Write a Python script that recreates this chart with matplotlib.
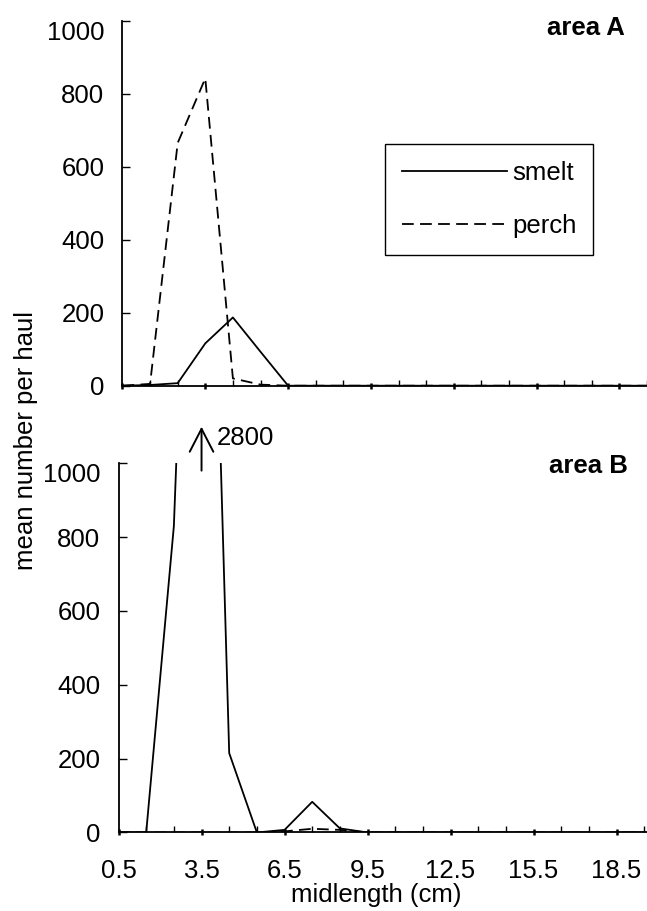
import numpy as np
import matplotlib.pyplot as plt
from matplotlib.ticker import MultipleLocator, FixedLocator

plt.rcParams["font.family"] = ["Liberation Sans", "DejaVu Sans"]
plt.rcParams["font.size"] = 18.5

# midlength classes (cm) and mean catch per haul
midlength = [0.5, 1.5, 2.5, 3.5, 4.5, 5.5, 6.5, 7.5, 8.5, 9.5,
             10.5, 11.5, 12.5, 13.5, 14.5, 15.5, 16.5, 17.5, 18.5, 19.5]

smelt_a = [0, 2, 7, 116, 187, 93, 0, 0, 0, 0,
           0, 0, 0, 0, 0, 0, 0, 0, 0, 0]
perch_a = [0, 5, 665, 842, 20, 3, 0, 0, 0, 0,
           0, 0, 0, 0, 0, 0, 0, 0, 0, 0]

smelt_b = [0, 0, 830, 2800, 215, 0, 7, 83, 11, 0,
           0, 0, 0, 0, 0, 0, 0, 0, 0, 0]
perch_b = [0, 0, 0, 0, 0, 0, 3, 10, 7, 0,
           0, 0, 0, 0, 0, 0, 0, 0, 0, 0]

y_ticks = [0, 200, 400, 600, 800, 1000]
x_ticks = [0.5, 3.5, 6.5, 9.5, 12.5, 15.5, 18.5]

DASH = (0, (6.5, 3.5))
LW = 1.3


def style_axes(ax, xmax, show_xlabels):
    ax.set_xlim(0.5, xmax)
    ax.set_ylim(0, 1000)
    for side in ("top", "right"):
        ax.spines[side].set_visible(False)
    for side in ("left", "bottom"):
        ax.spines[side].set_linewidth(1.3)

    ax.xaxis.set_major_locator(FixedLocator(x_ticks))
    ax.xaxis.set_minor_locator(MultipleLocator(1.0, offset=0.5))
    ax.yaxis.set_major_locator(FixedLocator(y_ticks))

    ax.tick_params(axis="x", which="major", direction="inout", length=4.5,
                   width=1.8, pad=17, labelbottom=show_xlabels)
    ax.tick_params(axis="x", which="minor", direction="in", length=4, width=1.0)
    ax.tick_params(axis="y", which="major", direction="in", length=5.5,
                   width=1.0, pad=13)
    ax.set_xticklabels([f"{t:.1f}" for t in x_ticks])
    ax.set_yticklabels([str(t) for t in y_ticks])
    # the top label sits under its tick rather than centred on it
    ax.get_yticklabels()[-1].set_va("top")


fig = plt.figure(figsize=(6.47, 9.11), dpi=100)

# 1. area A
ax_a = fig.add_axes([0.1893, 0.5766, 0.8107, 0.4007])
ax_a.plot(midlength, smelt_a, color="black", lw=LW, label="smelt")
ax_a.plot(midlength, perch_a, color="black", lw=LW, linestyle=DASH, label="perch")
style_axes(ax_a, 19.5, False)
ax_a.text(0.966, 0.969, "area A", transform=fig.transFigure, ha="right",
          va="center", fontweight="bold")

leg = ax_a.legend(loc="upper left", bbox_to_anchor=(0.595, 0.842),
                  bbox_transform=fig.transFigure, borderaxespad=0,
                  handlelength=4.1, handletextpad=0.2, borderpad=0.65,
                  labelspacing=1.15, fancybox=False, framealpha=1,
                  edgecolor="black")
leg.get_frame().set_linewidth(1.0)

# 2. area B, with the off-scale peak marked by an arrow
ax_b = fig.add_axes([0.1832, 0.0862, 0.8168, 0.4053])
ax_b.plot(midlength, smelt_b, color="black", lw=LW)
ax_b.plot(midlength, perch_b, color="black", lw=LW, linestyle=DASH)
style_axes(ax_b, 19.6, True)
ax_b.text(0.971, 0.4885, "area B", transform=fig.transFigure, ha="right",
          va="center", fontweight="bold")

peak = int(np.argmax(smelt_b))
ax_b.annotate("", xy=(midlength[peak], 1099), xytext=(midlength[peak], 980),
              annotation_clip=False,
              arrowprops=dict(arrowstyle="->,head_length=1.65,head_width=0.85",
                              mutation_scale=10, lw=1.4, color="black",
                              shrinkA=0, shrinkB=0))
ax_b.text(midlength[peak] + 0.55, 1069, f"{smelt_b[peak]}", ha="left",
          va="center", clip_on=False)

# 3. shared axis titles
fig.text(0.040, 0.517, "mean number per haul", rotation=90, ha="center",
         va="center")
fig.text(0.581, 0.0095, "midlength (cm)", ha="center", va="baseline")

fig.savefig("out.png", dpi=100)
